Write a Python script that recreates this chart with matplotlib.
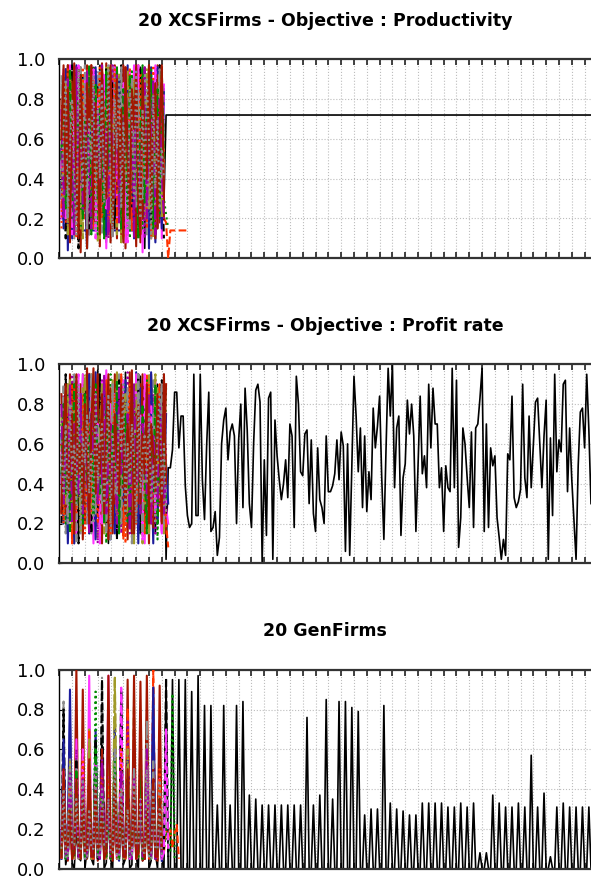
import numpy as np
import matplotlib.pyplot as plt

# ---- styles of the 20 firms (index 0 = the firm that survives) ----
firm_colors = ['black', '#1c1c9c', '#a31600', '#ff33ff', '#a09a28', '#8c8c8c', '#ff3300', '#008a00',
               '#a000a0', 'black', '#1c1c9c', '#a31600', '#ff33ff', '#a09a28', '#8c8c8c', '#ff3300',
               '#008a00', '#a000a0', '#a31600', '#8c8c8c']
firm_styles = ['-', '-', '-', '-', '--', '-.', '--', ':', ':', '--',
               '-', '-', '--', '-.', '--', ':', '--', '-.', '-', ':']

titles = ['20 XCSFirms - Objective : Productivity',
          '20 XCSFirms - Objective : Profit rate',
          '20 GenFirms']
yticks = [0.0, 0.2, 0.4, 0.6, 0.8, 1.0]
ytick_labels = ['0.0', '0.2', '0.4', '0.6', '0.8', '1.0']
n_steps = 249

# ---- panel 1 : productivity (percent, firms start at step 1) ----
prod_surv_early = [45, 88, 20, 95, 30, 70, 12, 85, 40, 96, 25, 60, 10, 90, 55, 18, 80, 35, 97, 22, 66, 8, 74, 50,
                   92, 15, 58, 83, 28, 95, 40, 12, 77, 62, 20, 89, 33, 96, 48, 5, 70, 25, 93, 38, 80, 15, 97, 60, 28]
prod_surv_level = 72
prod_f01 = [30, 72, 95, 4, 60, 88, 14, 14, 14, 14, 14, 14, 14, 14, 14, 14, 14, 14, 14, 14, 14, 14, 14, 14, 14,
            14, 14, 14, 14, 14, 14, 14, 14, 14, 14, 14, 14, 14, 55, 90, 20, 70, 96, 35, 8, 62, 85, 30]
prod_f02 = [50, 92, 18, 97, 8, 75, 96, 22, 90, 3, 85, 40, 97, 12, 70, 95, 30, 88, 6, 93, 45, 98, 15, 80, 60,
            97, 10, 90, 35, 96, 5, 78, 94, 20, 86, 50, 97, 8, 72, 91, 28, 95, 12, 84, 55, 97, 18, 90, 40]
prod_f03 = [20, 65, 90, 35, 97, 12, 80, 45, 95, 25, 60, 88, 10, 75, 30, 96, 50, 15, 85, 40, 92, 5, 70, 97, 28,
            62, 18, 90, 48, 95, 8, 80, 35, 68, 97, 22, 55, 88, 3, 76, 45, 93, 15, 66, 97, 30, 85, 10, 60]
prod_f04 = [40, 85, 25, 70, 92, 15, 60, 96, 35, 80, 10, 90, 55, 20, 94, 45, 75, 8, 88, 62, 30, 97, 18, 70, 85,
            40, 12, 93, 58, 25, 90, 68, 15, 82, 45, 96, 30, 60, 88, 20, 75, 95, 38, 10, 86, 52, 92, 25, 70]
prod_f05 = [88, 55, 95, 30, 75, 18, 90, 42, 65, 96, 22, 80, 50, 12, 85, 70, 35, 94, 15, 60, 88, 28, 76, 45, 97,
            20, 66, 90, 38, 10, 82, 55, 93, 25, 70, 48, 95, 18, 62, 85, 30, 77, 12, 90, 58, 35, 94, 20, 50]
prod_f06 = [25, 60, 15, 80, 45, 92, 30, 70, 10, 88, 55, 20, 95, 40, 75, 15, 85, 60, 25, 97, 50, 12, 78, 35, 90,
            62, 18, 84, 45, 70, 96, 28, 58, 14, 88, 40, 75, 20, 93, 55, 30, 82, 10, 68, 45, 90, 25, 35, 20,
            18, 0, 14, 14, 14, 14, 14, 14, 14, 14, 14]
prod_f07 = [60, 20, 85, 45, 10, 75, 95, 30, 65, 15, 90, 50, 80, 25, 70, 97, 40, 12, 86, 55, 30, 92, 68, 18, 78,
            45, 95, 22, 60, 88, 35, 72, 10, 94, 50, 25, 83, 65, 15, 90, 40, 70, 96, 28, 55, 85, 20, 45, 30, 22, 15]
prod_f08 = [70, 30, 92, 15, 55, 85, 40, 96, 20, 68, 45, 90, 12, 78, 35, 60, 94, 25, 72, 50, 88, 10, 65, 40, 97,
            30, 80, 18, 55, 92, 45, 22, 86, 60, 15, 75, 95, 35, 68, 10, 84, 50, 28, 90, 62, 15, 78, 40, 55]
prod_f09 = [35, 90, 10, 70, 50, 97, 22, 82, 5, 65, 92, 38, 75, 15, 95, 55, 28, 86, 45, 70, 12, 96, 60, 32, 88,
            20, 78, 50, 97, 15, 62, 40, 90, 25, 85, 55, 10, 95, 35, 72, 48, 92, 18, 80, 65, 30, 97, 45, 10]
prod_f10 = [55, 15, 95, 40, 80, 10, 70, 97, 25, 60, 90, 35, 5, 85, 50, 20, 96, 65, 30, 88, 45, 12, 78, 94, 22,
            68, 40, 90, 15, 75, 55, 97, 30, 85, 10, 62, 92, 45, 20, 80, 68, 5, 90, 35, 75, 96, 50, 15, 85]
prod_f11 = [80, 25, 60, 97, 10, 88, 45, 20, 95, 65, 30, 90, 5, 75, 97, 40, 15, 85, 60, 98, 25, 50, 92, 8, 70,
            96, 35, 80, 12, 97, 55, 25, 90, 40, 70, 6, 95, 60, 20, 88, 45, 97, 30, 75, 10, 92, 55, 97, 20]
prod_f12 = [45, 95, 20, 65, 85, 12, 75, 40, 97, 30, 55, 90, 18, 70, 45, 95, 10, 80, 35, 62, 92, 25, 85, 50, 15,
            96, 40, 72, 20, 88, 60, 8, 94, 45, 78, 30, 97, 15, 65, 90, 22, 55, 85, 40, 96, 18, 70, 30, 88]
prod_f13 = [65, 30, 88, 12, 95, 50, 25, 80, 60, 15, 92, 40, 75, 97, 20, 55, 85, 30, 10, 90, 65, 45, 96, 18, 72,
            35, 88, 55, 8, 82, 40, 95, 20, 60, 90, 35, 75, 12, 85, 50, 95, 25, 65, 15, 80, 45, 92, 20, 60]
prod_f14 = [92, 40, 70, 20, 85, 55, 10, 95, 35, 75, 50, 97, 15, 65, 88, 28, 80, 45, 95, 12, 60, 85, 30, 70, 10,
            92, 55, 40, 96, 20, 78, 62, 15, 90, 48, 25, 85, 70, 30, 96, 12, 58, 88, 40, 20, 75, 95, 35, 60]
prod_f15 = [15, 75, 40, 95, 20, 60, 85, 10, 70, 45, 96, 25, 80, 55, 15, 90, 35, 70, 97, 20, 50, 82, 12, 65, 40,
            95, 28, 75, 60, 10, 88, 45, 96, 18, 55, 80, 25, 92, 40, 65, 15, 85, 50, 97, 22, 60, 35, 90, 45]
prod_f16 = [50, 85, 25, 60, 95, 35, 15, 80, 55, 92, 20, 70, 40, 97, 12, 65, 88, 30, 75, 50, 10, 94, 45, 80, 25,
            60, 96, 38, 15, 85, 70, 20, 92, 55, 35, 80, 10, 65, 97, 28, 75, 45, 90, 15, 60, 85, 30, 94, 50]
prod_f17 = [75, 20, 55, 90, 30, 70, 12, 96, 45, 80, 25, 60, 94, 35, 15, 85, 50, 75, 22, 97, 40, 65, 10, 88, 55,
            30, 92, 18, 70, 45, 95, 60, 25, 82, 10, 90, 50, 35, 78, 96, 20, 68, 45, 88, 12, 55, 80, 40, 20]
prod_f18 = [60, 97, 35, 85, 15, 70, 98, 40, 10, 92, 55, 25, 88, 65, 97, 20, 78, 45, 12, 95, 60, 30, 85, 97, 15,
            55, 90, 40, 75, 8, 96, 50, 20, 85, 65, 97, 30, 12, 90, 58, 40, 97, 25, 70, 88, 15, 65, 96, 30]
prod_f19 = [30, 65, 90, 20, 55, 80, 40, 12, 95, 60, 35, 85, 20, 70, 50, 92, 15, 75, 40, 88, 28, 60, 97, 35, 12,
            80, 55, 90, 25, 68, 45, 15, 85, 70, 30, 95, 50, 20, 75, 40, 90, 60, 10, 82, 35, 70, 25, 55, 40]

# ---- panel 2 : profit rate ----
prof_surv_early = [40, 75, 20, 90, 35, 60, 10, 85, 50, 25, 95, 40, 70, 15, 80, 55, 30, 97, 20, 65, 45, 88, 10, 72,
                   35, 92, 55, 18, 80, 40, 96, 25, 60, 85, 12, 70, 45, 94, 30, 58, 20, 88, 50, 75, 15, 90, 40, 65,
                   95, 2]
prof_surv_late = [48, 48, 57, 86, 86, 58, 74, 74, 39, 24, 18, 20, 95, 24, 24, 95, 42, 22, 59, 86,
                  16, 18, 26, 4, 13, 60, 72, 78, 52, 66, 70, 64, 20, 62, 80, 28, 88, 67, 30, 18,
                  60, 87, 90, 81, 0, 52, 14, 83, 86, 2, 72, 54, 42, 32, 40, 52, 33, 70, 64, 18,
                  94, 80, 46, 44, 65, 67, 30, 62, 25, 16, 58, 32, 28, 20, 64, 36, 36, 39, 45, 62,
                  42, 66, 59, 6, 60, 4, 50, 94, 74, 46, 68, 28, 64, 26, 46, 32, 78, 58, 69, 84,
                  43, 12, 57, 98, 74, 100, 38, 68, 74, 14, 43, 50, 82, 65, 80, 64, 16, 49, 84, 45,
                  54, 38, 90, 58, 88, 70, 70, 38, 48, 16, 49, 38, 36, 98, 38, 92, 8, 23, 68, 60,
                  43, 28, 66, 18, 68, 70, 83, 98, 16, 70, 18, 58, 49, 54, 23, 13, 2, 12, 4, 55,
                  52, 84, 33, 28, 31, 37, 90, 43, 33, 74, 38, 59, 81, 83, 60, 38, 64, 82, 2, 63,
                  24, 95, 46, 62, 56, 90, 92, 36, 68, 42, 22, 2, 49, 76, 78, 58, 95, 67, 30]
prof_f01 = [45, 20, 62, 85, 30, 70, 10, 92, 40, 65, 25, 88, 55, 15, 78, 35, 96, 50, 20, 72, 90, 30, 60, 12, 85,
            45, 70, 25, 94, 38, 62, 18, 80, 50, 30, 96, 15, 68, 42, 88, 22, 75, 55, 10, 90, 35, 65, 82, 20, 50, 30]
prof_f02 = [30, 80, 45, 15, 95, 60, 25, 75, 50, 90, 12, 65, 98, 35, 55, 20, 85, 45, 70, 10, 92, 60, 30, 78, 15,
            95, 40, 65, 25, 88, 52, 12, 96, 35, 70, 45, 20, 90, 60, 30, 82, 10, 95, 48, 65, 22, 88, 40, 70, 15]
prof_f03 = [55, 30, 90, 20, 65, 45, 85, 12, 70, 35, 95, 50, 25, 80, 60, 10, 88, 40, 75, 20, 55, 97, 30, 65, 45,
            85, 15, 70, 50, 92, 25, 60, 40, 80, 18, 95, 55, 30, 72, 10, 86, 45, 65, 25, 92, 38, 60, 15, 80, 28, 20]
prof_f04 = [60, 25, 75, 50, 92, 15, 45, 80, 30, 65, 88, 20, 55, 40, 95, 25, 70, 12, 85, 50, 35, 90, 60, 20, 75,
            45, 96, 30, 55, 15, 80, 65, 40, 92, 25, 58, 85, 35, 10, 70, 50, 95, 20, 60, 45, 88, 30, 75, 15, 55]
prof_f05 = [35, 70, 15, 55, 85, 40, 95, 20, 60, 45, 80, 30, 70, 92, 15, 50, 65, 35, 90, 25, 60, 45, 82, 12, 70,
            55, 30, 95, 40, 65, 20, 85, 50, 10, 75, 40, 90, 60, 25, 80, 45, 15, 70, 92, 35, 55, 80, 25, 60, 40]
prof_f06 = [25, 55, 80, 30, 65, 10, 90, 45, 70, 20, 85, 55, 35, 96, 25, 60, 40, 80, 15, 70, 50, 92, 30, 55, 85,
            20, 65, 40, 95, 12, 75, 50, 30, 88, 60, 20, 70, 45, 85, 15, 95, 55, 35, 75, 20, 60, 90, 30, 50, 20, 8]
prof_f07 = [70, 40, 20, 85, 55, 30, 75, 95, 15, 60, 40, 80, 25, 65, 50, 90, 20, 55, 85, 35, 70, 10, 60, 95, 45,
            25, 80, 55, 35, 70, 90, 20, 60, 45, 85, 30, 65, 15, 75, 50, 92, 25, 60, 40, 80, 12, 70, 50, 30, 88]
prof_f08 = [50, 85, 30, 60, 20, 95, 45, 70, 15, 80, 55, 35, 90, 25, 65, 45, 75, 10, 60, 92, 30, 50, 80, 20, 70,
            40, 88, 55, 15, 65, 45, 96, 30, 60, 20, 80, 50, 35, 90, 60, 25, 70, 45, 85, 15, 55, 75, 40, 20, 60]
prof_f09 = [20, 60, 95, 40, 75, 25, 55, 85, 10, 70, 45, 90, 30, 60, 15, 80, 50, 25, 95, 40, 65, 20, 85, 55, 30,
            70, 12, 92, 45, 75, 30, 55, 85, 20, 65, 40, 95, 15, 60, 80, 35, 50, 88, 20, 70, 45, 30, 92, 55, 25]
prof_f10 = [65, 35, 80, 10, 50, 90, 25, 60, 45, 85, 20, 70, 40, 95, 30, 55, 12, 78, 60, 35, 90, 45, 20, 70, 55,
            15, 85, 40, 65, 30, 92, 50, 20, 75, 45, 60, 10, 88, 35, 70, 55, 25, 96, 40, 65, 20, 80, 50, 35, 75]
prof_f11 = [85, 50, 25, 70, 40, 90, 15, 60, 80, 35, 55, 20, 92, 45, 70, 30, 65, 95, 20, 50, 75, 40, 12, 88, 60,
            30, 70, 45, 20, 85, 55, 35, 92, 15, 60, 75, 30, 50, 95, 25, 70, 40, 60, 18, 85, 55, 30, 70, 45, 90]
prof_f12 = [40, 70, 55, 25, 85, 35, 65, 15, 95, 50, 30, 75, 60, 20, 88, 40, 55, 70, 10, 92, 35, 60, 45, 80, 25,
            65, 50, 15, 90, 40, 70, 30, 55, 85, 20, 65, 45, 75, 12, 95, 50, 30, 80, 60, 25, 70, 40, 15, 85, 30]
prof_f13 = [75, 45, 30, 90, 60, 20, 80, 35, 55, 15, 70, 95, 40, 60, 25, 85, 45, 30, 65, 90, 15, 55, 70, 35, 92,
            50, 20, 75, 40, 60, 85, 25, 45, 70, 10, 90, 55, 40, 65, 30, 80, 15, 60, 45, 95, 35, 55, 20, 75, 45]
prof_f14 = [30, 90, 50, 20, 65, 80, 40, 10, 75, 55, 35, 85, 20, 60, 95, 45, 25, 70, 50, 30, 80, 15, 65, 45, 90,
            35, 55, 75, 20, 60, 40, 88, 30, 50, 70, 25, 95, 45, 15, 60, 85, 40, 20, 75, 55, 30, 65, 90, 20, 40]
prof_f15 = [60, 20, 45, 75, 35, 90, 55, 25, 65, 40, 80, 15, 50, 70, 30, 92, 60, 20, 45, 80, 55, 35, 70, 15, 60,
            85, 40, 25, 75, 50, 10, 65, 90, 35, 55, 20, 80, 45, 70, 30, 60, 90, 20, 50, 40, 75, 25, 60, 30, 20]
prof_f16 = [45, 80, 35, 65, 15, 55, 90, 30, 70, 50, 20, 85, 40, 60, 75, 25, 90, 45, 35, 65, 20, 80, 55, 30, 70,
            45, 92, 15, 60, 40, 75, 55, 20, 85, 35, 65, 50, 25, 80, 45, 15, 70, 60, 35, 90, 20, 55, 45, 75, 30]
prof_f17 = [80, 30, 60, 45, 90, 20, 70, 55, 35, 85, 25, 65, 45, 15, 75, 55, 85, 30, 60, 40, 95, 25, 50, 70, 35,
            60, 20, 88, 45, 65, 30, 75, 15, 55, 90, 40, 60, 25, 70, 50, 35, 85, 20, 65, 45, 30, 80, 55, 25, 45]
prof_f18 = [25, 65, 90, 35, 50, 75, 15, 95, 45, 60, 30, 80, 55, 20, 70, 98, 35, 60, 45, 85, 25, 65, 95, 40, 20,
            75, 55, 35, 90, 60, 25, 70, 45, 97, 15, 55, 80, 30, 65, 45, 90, 20, 70, 55, 35, 85, 60, 20, 95, 40]
prof_f19 = [55, 35, 70, 20, 80, 45, 60, 30, 90, 15, 65, 50, 75, 35, 55, 20, 85, 40, 60, 70, 30, 50, 85, 20, 65,
            45, 35, 75, 55, 90, 25, 60, 40, 70, 50, 20, 85, 35, 55, 65, 40, 75, 30, 50, 20, 65, 85, 35, 60, 25]

# ---- panel 3 : GenFirms (spikes every 3rd step) ----
gen_surv_early = [5, 30, 2, 8, 45, 3, 0, 20, 6, 4, 60, 0, 10, 35, 5, 2, 25, 8, 6, 70, 0, 3, 40, 5,
                  0, 55, 10, 8, 90, 2, 5, 30, 0, 2, 65, 6, 0, 45, 4, 6, 80, 0, 4, 35, 8, 0, 50, 5]
# survivor peak heights at steps 50, 53, ..., 248 (zero on the steps between)
gen_surv_peaks = [95, 95, 95, 95, 89, 97, 82, 82, 32, 82, 32, 82, 84, 37, 35, 32, 32, 32, 32, 32,
                  32, 32, 76, 32, 37, 85, 35, 84, 84, 81, 79, 27, 30, 30, 82, 33, 30, 29, 27, 27,
                  33, 33, 33, 33, 31, 31, 33, 31, 33, 8, 8, 37, 33, 31, 31, 33, 31, 57, 31, 38,
                  6, 31, 33, 31, 31, 31, 31]
gen_f01 = [10, 40, 5, 15, 90, 8, 12, 30, 20, 6, 55, 10, 25, 45, 5, 8, 70, 15, 5, 35, 12, 20, 60, 6,
           10, 25, 8, 4, 50, 18, 12, 72, 5, 8, 40, 10, 15, 30, 6, 5, 65, 12, 10, 91, 8, 6, 20, 4]
gen_f02 = [6, 25, 10, 4, 50, 8, 12, 100, 5, 8, 40, 15, 5, 20, 6, 10, 60, 4, 15, 35, 8, 6, 75, 12,
           4, 30, 5, 8, 45, 10, 12, 95, 6, 5, 55, 8, 10, 25, 4, 6, 97, 12, 8, 40, 5, 4, 30, 8]
gen_f03 = [15, 55, 8, 10, 30, 12, 5, 65, 6, 20, 45, 10, 8, 97, 15, 12, 40, 5, 6, 50, 20, 10, 97, 8,
           15, 35, 12, 5, 60, 6, 8, 25, 10, 12, 70, 5, 6, 40, 15, 10, 55, 8, 5, 30, 12, 8, 20, 5]
gen_f04 = [8, 35, 12, 5, 60, 6, 10, 45, 15, 6, 30, 8, 12, 70, 5, 8, 40, 10, 5, 55, 12, 15, 65, 6,
           10, 95, 8, 6, 35, 5, 12, 50, 10, 8, 85, 6, 5, 40, 12, 10, 60, 8, 6, 45, 5, 12, 30, 10]
gen_f05 = [12, 84, 6, 8, 35, 10, 5, 55, 12, 15, 40, 8, 6, 65, 5, 10, 30, 15, 8, 96, 6, 12, 45, 10,
           5, 70, 8, 10, 35, 12, 6, 50, 5, 15, 60, 8, 8, 30, 10, 5, 75, 6, 12, 40, 8, 6, 55, 12]
gen_f06 = [5, 45, 8, 10, 60, 12, 6, 30, 5, 12, 50, 10, 8, 70, 6, 5, 25, 12, 10, 55, 8, 6, 40, 5,
           12, 65, 10, 8, 30, 6, 5, 80, 12, 10, 45, 8, 6, 55, 5, 12, 35, 10, 8, 100, 6, 5, 60, 12,
           8, 20, 15, 20, 10, 18, 22, 5]
gen_f07 = [10, 30, 5, 6, 50, 12, 15, 40, 8, 5, 65, 10, 12, 35, 6, 8, 89, 5, 10, 45, 15, 6, 30, 8,
           12, 60, 5, 5, 40, 10, 8, 55, 6, 15, 35, 12, 6, 70, 5, 10, 45, 8, 5, 30, 12, 8, 60, 6,
           10, 20, 12, 8, 88, 4]
gen_f08 = [6, 40, 10, 12, 35, 5, 8, 60, 15, 5, 45, 8, 10, 30, 12, 6, 55, 5, 15, 40, 10, 8, 65, 6,
           5, 35, 12, 10, 50, 8, 6, 75, 5, 12, 45, 10, 8, 30, 6, 5, 60, 12, 10, 40, 8, 6, 35, 5]
gen_f09 = [10, 80, 6, 5, 40, 12, 8, 55, 5, 12, 30, 10, 6, 45, 8, 10, 65, 5, 5, 95, 12, 8, 35, 6,
           12, 50, 10, 6, 90, 5, 10, 40, 8, 5, 55, 12, 8, 30, 6, 12, 45, 10, 6, 60, 5, 8, 35, 12,
           10, 96, 6]
gen_f10 = [5, 65, 10, 12, 73, 6, 8, 30, 12, 6, 50, 5, 10, 40, 8, 5, 35, 12, 12, 60, 6, 8, 45, 10,
           5, 70, 8, 10, 30, 5, 6, 55, 12, 8, 40, 6, 12, 35, 10, 5, 50, 8, 10, 91, 5, 6, 40, 10]
gen_f11 = [8, 30, 12, 6, 45, 5, 10, 35, 8, 5, 90, 12, 12, 50, 6, 8, 40, 10, 6, 60, 5, 10, 35, 12,
           5, 55, 8, 12, 40, 6, 8, 30, 10, 6, 97, 5, 10, 45, 12, 5, 35, 8, 12, 50, 6, 8, 92, 10]
gen_f12 = [12, 50, 6, 8, 35, 10, 5, 45, 12, 10, 60, 5, 6, 40, 8, 12, 55, 6, 8, 30, 10, 5, 65, 12,
           10, 40, 6, 6, 91, 8, 12, 35, 5, 8, 50, 10, 5, 40, 12, 10, 55, 6, 6, 30, 8, 12, 45, 5,
           8, 70, 10]
gen_f13 = [6, 35, 12, 10, 55, 8, 5, 40, 6, 12, 30, 10, 8, 65, 5, 6, 45, 12, 10, 35, 8, 5, 50, 6,
           12, 96, 10, 8, 40, 5, 6, 60, 12, 10, 30, 8, 5, 45, 6, 12, 55, 10, 8, 35, 5, 6, 40, 8]
gen_f14 = [10, 45, 8, 6, 30, 12, 12, 50, 5, 8, 40, 10, 5, 35, 6, 10, 55, 12, 6, 40, 8, 12, 30, 5,
           8, 60, 10, 5, 45, 6, 10, 35, 12, 6, 50, 8, 12, 40, 5, 8, 30, 10, 5, 55, 6, 10, 45, 12]
gen_f15 = [5, 30, 10, 12, 45, 6, 8, 35, 12, 6, 55, 5, 10, 40, 8, 5, 30, 12, 12, 50, 6, 8, 45, 10,
           6, 35, 5, 10, 60, 8, 5, 40, 12, 12, 30, 6, 8, 55, 10, 6, 45, 5, 10, 35, 8, 5, 50, 12]
gen_f16 = [8, 40, 5, 10, 30, 12, 6, 50, 8, 12, 35, 5, 5, 45, 10, 8, 60, 6, 10, 40, 12, 6, 30, 5,
           12, 55, 8, 5, 35, 10, 8, 45, 6, 10, 40, 12, 6, 50, 5, 12, 30, 8, 5, 40, 10, 8, 35, 6]
gen_f17 = [12, 35, 8, 5, 50, 10, 10, 30, 6, 8, 45, 12, 6, 35, 5, 12, 40, 8, 5, 55, 10, 10, 35, 6,
           8, 40, 12, 6, 50, 5, 12, 30, 8, 5, 45, 10, 10, 35, 6, 8, 60, 12, 6, 40, 5, 12, 30, 8]
gen_f18 = [6, 50, 10, 12, 30, 5, 8, 45, 12, 5, 35, 8, 10, 55, 6, 6, 40, 10, 12, 30, 5, 8, 97, 12,
           5, 45, 8, 10, 35, 6, 6, 50, 10, 12, 40, 5, 8, 94, 12, 5, 30, 8, 10, 45, 6, 6, 35, 10]
gen_f19 = [10, 40, 6, 6, 55, 12, 12, 35, 8, 8, 45, 5, 5, 30, 10, 10, 50, 6, 6, 40, 12, 12, 35, 8,
           8, 55, 5, 5, 40, 10, 10, 30, 6, 6, 45, 12, 12, 35, 8, 8, 50, 5, 5, 40, 10, 10, 30, 6]

prod_firms = [prod_f01, prod_f02, prod_f03, prod_f04, prod_f05, prod_f06, prod_f07, prod_f08, prod_f09, prod_f10,
              prod_f11, prod_f12, prod_f13, prod_f14, prod_f15, prod_f16, prod_f17, prod_f18, prod_f19]
prof_firms = [prof_f01, prof_f02, prof_f03, prof_f04, prof_f05, prof_f06, prof_f07, prof_f08, prof_f09, prof_f10,
              prof_f11, prof_f12, prof_f13, prof_f14, prof_f15, prof_f16, prof_f17, prof_f18, prof_f19]
gen_firms = [gen_f01, gen_f02, gen_f03, gen_f04, gen_f05, gen_f06, gen_f07, gen_f08, gen_f09, gen_f10,
             gen_f11, gen_f12, gen_f13, gen_f14, gen_f15, gen_f16, gen_f17, gen_f18, gen_f19]

# survivors, full length
prod_surv = prod_surv_early + [prod_surv_level] * (n_steps - len(prod_surv_early))
prof_surv = prof_surv_early + prof_surv_late
gen_surv = list(gen_surv_early)
for p in gen_surv_peaks:
    gen_surv += [0, p, 0]

panels = [(prod_surv, prod_firms), (prof_surv, prof_firms), (gen_surv, gen_firms)]

plt.rcParams['font.family'] = ['DejaVu Sans']
fig = plt.figure(figsize=(5.91, 8.81), dpi=100)

ax_left = 59.3 / 591
ax_h = 199 / 881
bottoms = [(881 - 258.3) / 881, (881 - 563.3) / 881, (881 - 868.7) / 881]

for (surv, firms), title, bottom in zip(panels, titles, bottoms):
    ax = fig.add_axes([ax_left, bottom, 1 - ax_left, ax_h])
    ax.set_axisbelow(True)
    xs = 1 + np.arange(len(surv))
    ax.plot(xs, np.array(surv) / 100, color='black', lw=1.2, zorder=2)
    for i, vals in enumerate(firms):
        x = 1 + np.arange(len(vals))
        ax.plot(x, np.array(vals) / 100, color=firm_colors[i + 1], ls=firm_styles[i + 1], lw=1.5, zorder=3)

    ax.set_xlim(0, n_steps)
    ax.set_ylim(0, 1)
    ax.set_xticks(np.arange(0, n_steps + 1, 6))
    ax.set_yticks(yticks)
    ax.set_yticklabels(ytick_labels)
    ax.tick_params(axis='x', which='both', direction='in', top=True, bottom=True,
                   labelbottom=False, length=4, width=1.2, color='#222222')
    ax.tick_params(axis='y', direction='in', length=2.5, width=0.8, pad=10, labelsize=13, right=False)
    ax.grid(True, ls=':', color='#bdbdbd', lw=0.8)
    for side in ('top', 'bottom'):
        ax.spines[side].set_linewidth(1.6)
        ax.spines[side].set_color('#333333')
    ax.spines['left'].set_linewidth(1.0)
    ax.spines['right'].set_visible(False)
    ax.set_title(title, fontsize=12.5, fontweight='bold', pad=24)

fig.savefig('out.png', dpi=100)
